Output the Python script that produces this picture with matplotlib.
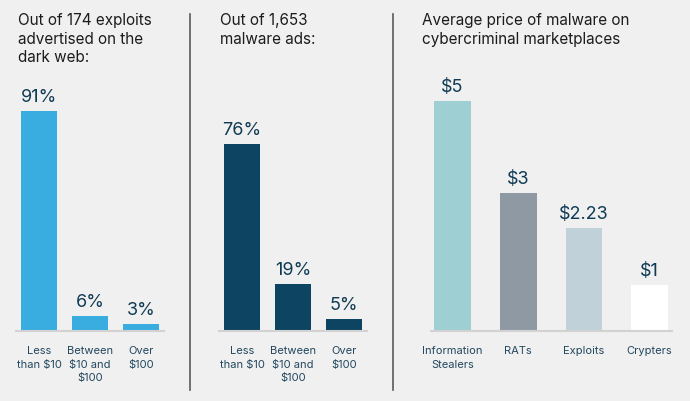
import matplotlib
matplotlib.use("Agg")
import matplotlib.pyplot as plt
from matplotlib.lines import Line2D
from matplotlib.transforms import offset_copy

plt.rcParams['font.family'] = ['Inter', 'DejaVu Sans']

# Data
p1_title = "Out of 174 exploits\nadvertised on the\ndark web:"
p1_cats = ["Less\nthan $10", "Between\n$10 and\n$100", "Over\n$100"]
p1_vals = [91, 6, 3]
p1_labels = ["91%", "6%", "3%"]

p2_title = "Out of 1,653\nmalware ads:"
p2_cats = ["Less\nthan $10", "Between\n$10 and\n$100", "Over\n$100"]
p2_vals = [76, 19, 5]
p2_labels = ["76%", "19%", "5%"]

p3_title = "Average price of malware on\ncybercriminal marketplaces"
p3_cats = ["Information\nStealers", "RATs", "Exploits", "Crypters"]
p3_vals = [5, 3, 2.23, 1]
p3_labels = ["$5", "$3", "$2.23", "$1"]

BG = "#f0f0f0"
VAL_C = "#103b54"
TICK_C = "#23475e"
TITLE_C = "#1c1c1c"

W, H = 690, 401
fig = plt.figure(figsize=(W/100, H/100), dpi=100, facecolor=BG)

def px_axes(left, bottom_from_top, width, height):
    return fig.add_axes([left/W, (H-bottom_from_top)/H, width/W, height/H])

def panel(ax, cats, vals, labels, colors, width, xlim, ylim):
    x = list(range(len(vals)))
    ax.bar(x, vals, width=width, color=colors, linewidth=0)
    ax.set_xlim(*xlim)
    ax.set_ylim(*ylim)
    ax.set_facecolor("none")
    for s in ["top", "right", "left"]:
        ax.spines[s].set_visible(False)
    ax.spines["bottom"].set_color("#d2d2d2")
    ax.spines["bottom"].set_linewidth(1.5)
    ax.set_yticks([])
    ax.set_xticks([])
    tr = offset_copy(ax.get_xaxis_transform(), fig=fig, x=0, y=-11, units="points")
    for xi, c in zip(x, cats):
        ax.text(xi, 0, c, transform=tr, ha="center", va="top", fontsize=8,
                color=TICK_C, linespacing=1.45, clip_on=False)
    off = (ylim[1]-ylim[0]) * 0.022
    for xi, v, lab in zip(x, vals, labels):
        ax.text(xi, v + off, lab, ha="center", va="bottom", fontsize=13,
                color=VAL_C, clip_on=False)

AX_H = 231
BASE = 331

ax1 = px_axes(16, BASE, 148, AX_H)
panel(ax1, p1_cats, p1_vals, p1_labels, ["#3aade0"]*3, 0.72, (-0.45, 2.45), (0, AX_H/2.42))

ax2 = px_axes(219, BASE, 148, AX_H)
panel(ax2, p2_cats, p2_vals, p2_labels, ["#0d4461"]*3, 0.72, (-0.45, 2.45), (0, AX_H/2.46))

sp = 65.7
ax3 = px_axes(452.5 - 0.33*sp, BASE, 3.67*sp, AX_H)
panel(ax3, p3_cats, p3_vals, p3_labels, ["#9dcfd3", "#8f99a3", "#c1d1d9", "#ffffff"],
      0.56, (-0.33, 3.34), (0, AX_H/46))

for xt, t in ((18, p1_title), (220, p2_title), (422, p3_title)):
    fig.text(xt/W, 1-13/H, t, ha="left", va="top", fontsize=11, color=TITLE_C, linespacing=1.3)

for xd in (190, 393):
    fig.add_artist(Line2D([xd/W, xd/W], [1-14/H, 1-390/H], color="#5a5a5a", lw=1.2))

fig.savefig("out.png", dpi=100, facecolor=BG)
